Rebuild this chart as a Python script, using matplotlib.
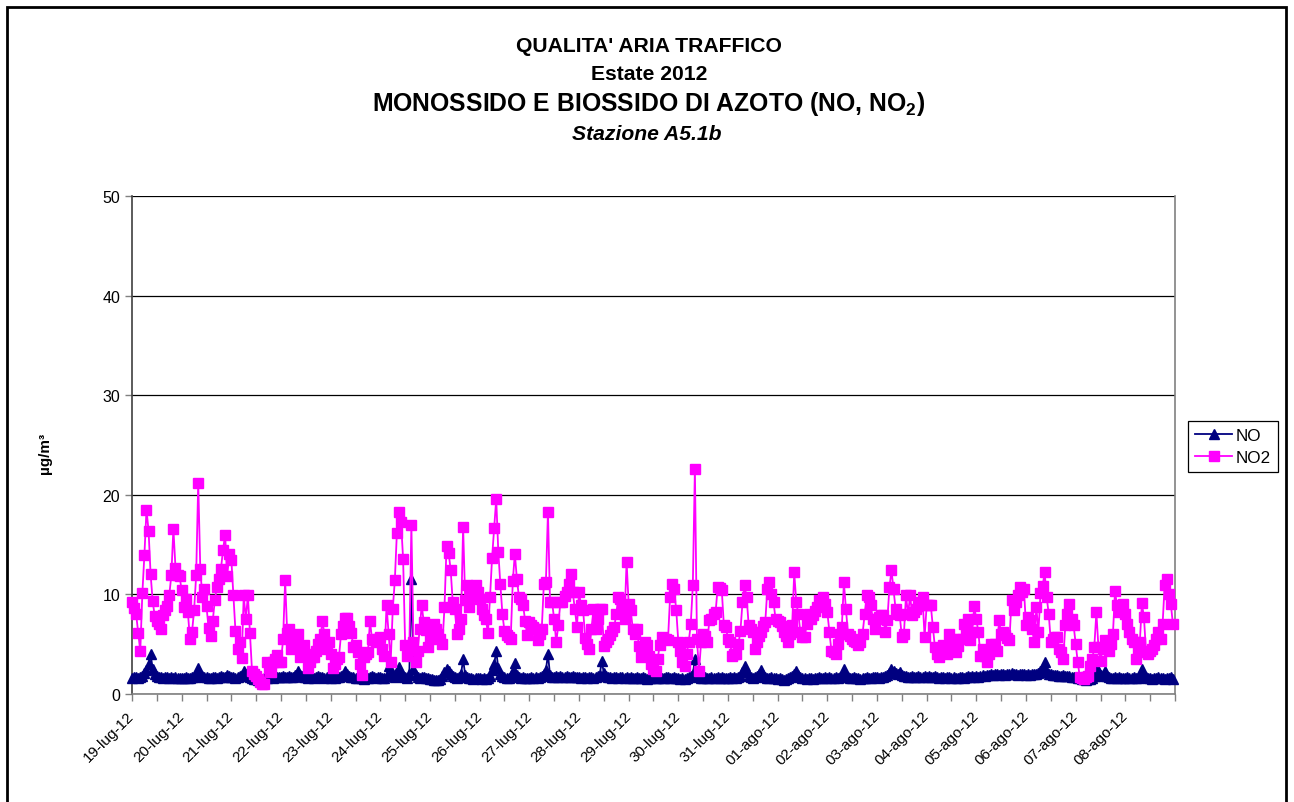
import numpy as np
import matplotlib.pyplot as plt
from matplotlib.patches import Rectangle

plt.rcParams['font.family'] = ['Liberation Sans', 'DejaVu Sans']
plt.rcParams['mathtext.fontset'] = 'custom'
plt.rcParams['mathtext.rm'] = 'Liberation Sans'
plt.rcParams['mathtext.bf'] = 'Liberation Sans:bold'

giorni = ['19-lug-12', '20-lug-12', '21-lug-12', '22-lug-12', '23-lug-12', '24-lug-12',
          '25-lug-12', '26-lug-12', '27-lug-12', '28-lug-12', '29-lug-12', '30-lug-12',
          '31-lug-12', '01-ago-12', '02-ago-12', '03-ago-12', '04-ago-12', '05-ago-12',
          '06-ago-12', '07-ago-12', '08-ago-12']

# medie orarie NO2 (µg/m3), una riga per giorno
no2_sett1 = [
    9.2, 8.6, 8.0, 6.1, 4.3, 10.1, 14.0, 18.5, 16.4, 12.0, 9.3, 7.8, 7.3, 7.0, 6.5, 7.9, 8.4, 8.8, 9.9, 11.9, 16.6, 12.7, 11.9, 11.8,
    10.4, 8.7, 9.5, 8.2, 5.5, 6.2, 8.4, 11.9, 21.2, 12.6, 9.7, 10.5, 8.8, 6.6, 5.8, 7.3, 9.4, 10.7, 11.5, 12.6, 14.5, 16.0, 11.8, 14.1,
    13.5, 9.9, 6.3, 4.5, 5.2, 3.6, 9.9, 7.5, 9.9, 6.1, 2.3, 2.0, 1.8, 1.5, 1.2, 1.0, 1.0, 3.2, 2.6, 2.2, 3.2, 3.5, 3.9, 3.2,
    3.2, 5.5, 11.4, 6.1, 6.5, 4.5, 5.5, 5.2, 6.0, 3.7, 4.3, 4.9, 4.0, 2.6, 3.2, 3.7, 3.7, 4.3, 5.0, 5.5, 7.3, 6.0, 4.5, 5.2,
    4.0, 2.6, 3.0, 3.5, 3.7, 6.0, 6.8, 7.6, 7.6, 6.8, 6.1, 4.7, 4.9, 4.2, 3.0, 1.9, 3.7, 4.0, 4.2, 7.3, 5.5, 5.4, 5.2, 5.5,
    5.7, 4.5, 3.8, 8.9, 6.0, 3.2, 8.5, 11.4, 16.2, 18.3, 17.3, 13.6, 4.9, 3.8, 4.5, 17.0, 5.2, 3.2, 4.3, 6.5, 8.9, 7.2, 6.4, 4.7,
    5.5, 6.2, 7.0, 6.5, 6.0, 5.5, 5.0, 8.7, 14.9, 14.2, 12.4, 9.2, 8.5, 6.0, 6.5, 7.5, 16.8, 9.4, 10.9, 8.7, 9.8, 10.5, 10.9, 10.2,
]
no2_sett2 = [
    9.5, 8.5, 7.9, 7.5, 6.1, 9.7, 13.7, 16.7, 19.6, 14.3, 11.0, 8.0, 6.3, 5.9, 5.7, 5.5, 11.3, 14.1, 11.5, 9.7, 9.5, 8.9, 7.3, 5.9,
    7.2, 6.9, 6.7, 6.5, 5.4, 6.0, 6.5, 11.0, 11.2, 18.3, 9.2, 9.2, 7.5, 5.2, 6.9, 9.2, 9.2, 9.8, 10.2, 11.0, 12.0, 10.2, 8.5, 6.7,
    10.2, 8.9, 8.4, 5.6, 5.0, 4.5, 6.5, 8.5, 6.5, 7.5, 8.5, 8.5, 4.8, 5.2, 5.5, 5.9, 6.3, 6.7, 8.0, 9.7, 9.5, 8.5, 7.5, 13.3,
    9.0, 8.4, 6.5, 6.0, 6.5, 4.8, 3.7, 4.5, 5.2, 4.9, 3.8, 3.0, 2.5, 2.3, 3.5, 4.9, 5.7, 5.5, 5.5, 5.4, 9.7, 11.0, 10.5, 8.4,
    5.2, 4.3, 3.2, 2.8, 4.0, 5.2, 7.0, 10.9, 22.6, 5.5, 2.3, 5.2, 6.0, 5.8, 5.2, 7.4, 7.5, 8.0, 8.2, 10.7, 10.6, 10.4, 6.9, 6.7,
    5.5, 5.2, 3.8, 4.0, 4.0, 5.0, 6.3, 9.2, 10.9, 9.7, 6.9, 6.5, 6.2, 4.5, 5.2, 5.8, 6.2, 6.8, 7.2, 10.5, 11.2, 10.0, 9.2, 7.5,
    7.3, 7.2, 6.8, 6.2, 5.8, 5.2, 6.0, 6.9, 12.2, 9.2, 8.0, 6.2, 5.7, 5.7, 7.0, 8.0, 7.5, 7.9, 8.3, 8.7, 9.4, 9.0, 9.7, 9.0,
]
no2_sett3 = [
    8.2, 6.2, 4.3, 4.2, 4.0, 5.0, 6.0, 6.7, 11.2, 8.5, 6.0, 5.8, 5.5, 5.3, 5.2, 4.9, 5.2, 6.0, 8.0, 9.9, 9.7, 8.9, 7.5, 6.5,
    7.5, 7.7, 7.9, 7.9, 6.2, 7.4, 10.7, 12.4, 10.5, 8.5, 8.0, 7.9, 5.7, 6.0, 9.9, 8.0, 9.9, 7.9, 8.2, 8.5, 8.8, 9.2, 9.7, 5.7,
    8.9, 8.9, 8.9, 6.7, 4.7, 4.0, 3.7, 4.5, 4.9, 4.5, 4.0, 6.0, 5.5, 4.8, 4.2, 4.8, 5.5, 5.5, 7.0, 6.5, 7.5, 5.4, 6.2, 8.8,
    7.5, 6.2, 3.8, 4.5, 3.8, 3.2, 4.0, 5.0, 4.8, 5.0, 4.3, 7.4, 6.0, 6.2, 5.9, 5.6, 5.4, 9.4, 8.4, 9.2, 9.9, 10.7, 10.2, 10.5,
    6.9, 7.7, 7.4, 6.5, 5.2, 8.7, 6.2, 10.1, 10.8, 12.2, 9.7, 8.0, 5.2, 5.5, 5.7, 5.7, 4.5, 4.2, 3.5, 6.9, 8.0, 9.0, 7.5, 6.9,
    5.0, 3.2, 1.7, 1.6, 1.5, 1.7, 1.8, 2.8, 3.5, 4.7, 8.2, 4.7, 3.3, 4.5, 5.4, 4.8, 4.3, 5.0, 6.0, 10.3, 8.9, 8.2, 8.5, 9.0,
    8.0, 7.0, 6.2, 5.5, 5.2, 3.5, 4.5, 5.2, 9.1, 7.7, 4.2, 4.0, 4.3, 4.5, 4.9, 5.5, 6.2, 5.5, 7.0, 10.9, 11.5, 10.0, 9.0, 7.0,
]

# medie orarie NO (µg/m3)
no_sett1 = [
    1.6, 1.7, 1.7, 1.6, 1.7, 1.8, 2.1, 2.4, 3.0, 4.0, 2.5, 2.0, 1.8, 1.7, 1.7, 1.6, 1.7, 1.7, 1.6, 1.7, 1.6, 1.7, 1.6, 1.6,
    1.6, 1.6, 1.7, 1.6, 1.6, 1.7, 1.7, 1.9, 2.6, 2.0, 1.8, 1.7, 1.7, 1.6, 1.6, 1.7, 1.7, 1.6, 1.7, 1.8, 1.7, 1.7, 1.9, 1.8,
    1.7, 1.7, 1.6, 1.7, 1.8, 1.9, 2.3, 2.0, 1.8, 1.7, 1.6, 1.5, 1.5, 1.4, 1.5, 1.5, 1.6, 1.6, 1.7, 1.7, 1.6, 1.7, 1.7, 1.7,
    1.7, 1.8, 1.7, 1.7, 1.8, 1.7, 1.7, 1.9, 2.3, 1.9, 1.8, 1.7, 1.7, 1.6, 1.7, 1.7, 1.6, 1.7, 1.8, 1.7, 1.7, 1.6, 1.7, 1.7,
    1.6, 1.7, 1.6, 1.7, 1.7, 1.8, 1.9, 2.3, 2.0, 1.8, 1.7, 1.7, 1.6, 1.6, 1.7, 1.6, 1.5, 1.6, 1.6, 1.7, 1.8, 1.7, 1.6, 1.7,
    1.7, 1.6, 1.6, 1.8, 2.8, 2.2, 1.8, 1.7, 2.0, 2.7, 2.1, 1.8, 1.7, 1.6, 2.0, 11.5, 2.5, 1.9, 1.7, 1.6, 1.7, 1.7, 1.6, 1.6,
    1.5, 1.5, 1.4, 1.4, 1.4, 1.5, 1.8, 2.2, 2.5, 2.3, 2.0, 1.8, 1.7, 1.6, 1.7, 2.0, 3.5, 1.9, 1.7, 1.6, 1.6, 1.5, 1.6, 1.6,
]
no_sett2 = [
    1.6, 1.5, 1.6, 1.5, 1.6, 1.8, 2.4, 3.0, 4.3, 2.6, 2.0, 1.8, 1.7, 1.6, 1.6, 1.8, 2.3, 3.1, 1.9, 1.7, 1.6, 1.7, 1.6, 1.6,
    1.6, 1.7, 1.6, 1.7, 1.6, 1.7, 1.8, 2.0, 2.4, 4.0, 1.9, 1.7, 1.7, 1.8, 1.7, 1.8, 1.7, 1.7, 1.8, 1.7, 1.7, 1.8, 1.7, 1.7,
    1.7, 1.6, 1.7, 1.7, 1.6, 1.7, 1.7, 1.6, 1.7, 1.8, 1.9, 3.3, 2.1, 1.8, 1.7, 1.7, 1.6, 1.7, 1.7, 1.6, 1.7, 1.7, 1.6, 1.7,
    1.6, 1.7, 1.6, 1.6, 1.7, 1.6, 1.6, 1.7, 1.6, 1.5, 1.6, 1.6, 1.7, 1.6, 1.6, 1.7, 1.6, 1.6, 1.7, 1.7, 1.6, 1.6, 1.7, 1.6,
    1.6, 1.5, 1.6, 1.5, 1.6, 1.7, 1.8, 2.0, 3.5, 1.8, 1.7, 1.6, 1.6, 1.7, 1.6, 1.6, 1.7, 1.6, 1.6, 1.7, 1.6, 1.7, 1.6, 1.6,
    1.6, 1.7, 1.6, 1.7, 1.6, 1.7, 1.8, 2.2, 2.8, 2.2, 1.8, 1.7, 1.6, 1.7, 1.8, 2.0, 2.4, 1.9, 1.7, 1.6, 1.6, 1.7, 1.6, 1.6,
    1.5, 1.6, 1.5, 1.4, 1.5, 1.6, 1.7, 1.8, 2.0, 2.3, 1.9, 1.7, 1.6, 1.6, 1.5, 1.6, 1.6, 1.5, 1.6, 1.6, 1.7, 1.6, 1.6, 1.7,
]
no_sett3 = [
    1.6, 1.7, 1.6, 1.6, 1.7, 1.6, 1.7, 1.8, 2.5, 1.9, 1.7, 1.6, 1.6, 1.7, 1.6, 1.6, 1.5, 1.6, 1.6, 1.7, 1.6, 1.6, 1.7, 1.7,
    1.7, 1.6, 1.7, 1.7, 1.8, 1.9, 2.1, 2.5, 2.3, 2.1, 2.0, 2.2, 1.9, 1.8, 1.8, 1.7, 1.7, 1.8, 1.7, 1.7, 1.8, 1.7, 1.7, 1.8,
    1.7, 1.8, 1.7, 1.7, 1.8, 1.7, 1.6, 1.7, 1.7, 1.6, 1.7, 1.7, 1.6, 1.7, 1.6, 1.6, 1.7, 1.7, 1.6, 1.7, 1.8, 1.7, 1.8, 1.7,
    1.8, 1.7, 1.8, 1.9, 1.8, 1.9, 1.9, 2.0, 1.9, 2.0, 2.0, 1.9, 2.0, 2.0, 1.9, 2.0, 2.0, 2.1, 2.0, 2.0, 1.9, 2.0, 2.0, 2.0,
    1.9, 2.0, 1.9, 2.0, 2.0, 2.0, 2.1, 2.3, 2.6, 3.2, 2.2, 2.0, 2.0, 1.9, 1.9, 1.9, 1.8, 1.8, 1.9, 1.8, 1.8, 1.8, 1.7, 1.7,
    1.7, 1.6, 1.6, 1.5, 1.5, 1.4, 1.5, 1.5, 1.6, 1.8, 2.8, 2.2, 1.9, 1.8, 2.3, 1.8, 1.7, 1.6, 1.6, 1.7, 1.6, 1.7, 1.6, 1.6,
    1.6, 1.7, 1.6, 1.6, 1.7, 1.6, 1.6, 1.8, 2.5, 1.9, 1.7, 1.6, 1.6, 1.5, 1.6, 1.6, 1.7, 1.6, 1.6, 1.5, 1.6, 1.6, 1.7, 1.5,
]

no = np.array(no_sett1 + no_sett2 + no_sett3)
no2 = np.array(no2_sett1 + no2_sett2 + no2_sett3)
ore = np.arange(len(no2))

fig = plt.figure(figsize=(12.94, 8.03), dpi=100)
ax = fig.add_axes([132 / 1294, 1 - 695 / 803, (1175 - 132) / 1294, (695 - 197) / 803])

ax.plot(ore, no, color='#000080', marker='^', ms=6.8, lw=1.3, label='NO', clip_on=False, zorder=3)
ax.plot(ore, no2, color='#FF00FF', marker='s', ms=6.8, lw=1.3, label='NO2', clip_on=False, zorder=4)

ax.set_xlim(0, 24 * len(giorni))
ax.set_ylim(0, 50)
ax.set_yticks(np.arange(0, 51, 10))
ax.yaxis.grid(True, color='black', lw=0.9)
ax.set_axisbelow(True)

ax.set_xticks(np.arange(0, 24 * len(giorni) + 1, 12))
etichette = []
for i in range(2 * len(giorni) + 1):
    etichette.append(giorni[i // 2] if i % 2 == 0 and i // 2 < len(giorni) else '')
ax.set_xticklabels(etichette, rotation=45, ha='right', va='center', rotation_mode='anchor')

ax.tick_params(axis='both', direction='out', length=5, width=1, color='#808080')
ax.tick_params(axis='y', labelsize=11.5)
ax.tick_params(axis='x', labelsize=11, pad=9)
ax.spines['top'].set_visible(False)
ax.spines['left'].set_color('#404040')
ax.spines['bottom'].set_color('#808080')
ax.spines['right'].set_color('#808080')
for s in ax.spines.values():
    s.set_linewidth(1.2)

fig.text(649 / 1294, 1 - 47 / 803, "QUALITA' ARIA TRAFFICO", ha='center', va='center', fontsize=15.2, fontweight='bold')
fig.text(649 / 1294, 1 - 74 / 803, 'Estate 2012', ha='center', va='center', fontsize=15.2, fontweight='bold')
fig.text(649 / 1294, 1 - 104 / 803, r'MONOSSIDO E BIOSSIDO DI AZOTO (NO, NO$_{\mathbf{2}}$)',
         ha='center', va='center', fontsize=17.8, fontweight='bold')
fig.text(647 / 1294, 1 - 134 / 803, 'Stazione A5.1b', ha='center', va='center', fontsize=15.2,
         fontweight='bold', fontstyle='italic')
fig.text(45 / 1294, 1 - 453 / 803, 'µg/m³', rotation=90, ha='center', va='center', fontsize=11, fontweight='bold')

leg = fig.legend(loc='upper left', bbox_to_anchor=(1188 / 1294, 1 - 422 / 803), fontsize=12.3,
                 frameon=True, fancybox=False, edgecolor='black', framealpha=1, borderaxespad=0,
                 handlelength=2.2, labelspacing=0.4, borderpad=0.4, handletextpad=0.2)
leg.get_frame().set_linewidth(0.9)

fig.patches.append(Rectangle((7 / 1294, -0.05), (1286 - 7) / 1294, 1 - 8 / 803 + 0.05,
                             transform=fig.transFigure, fill=False, ec='black', lw=2))

fig.savefig('out.png', dpi=100)
